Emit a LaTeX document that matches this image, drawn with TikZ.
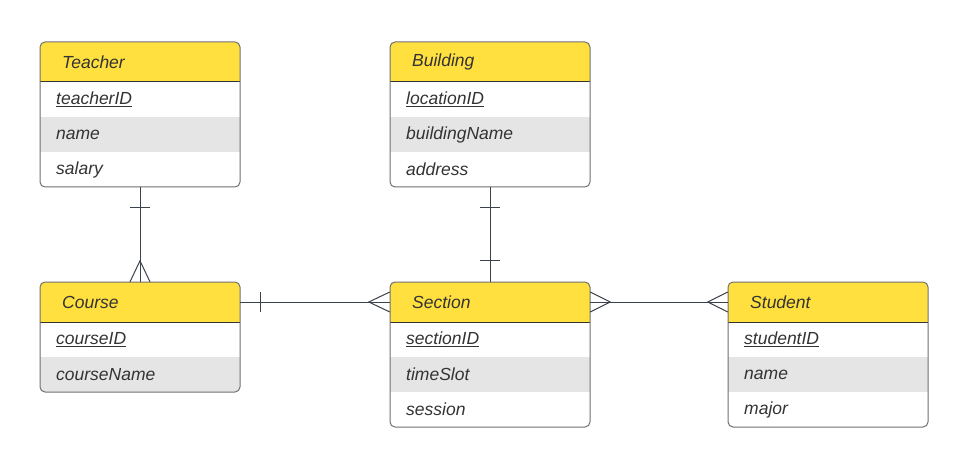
\documentclass[tikz,border=0pt]{standalone}
\usepackage{fontspec}
\setmainfont{Liberation Sans}
\usetikzlibrary{calc}
\definecolor{hdr}{HTML}{FFE03F}
\definecolor{stripe}{HTML}{E5E5E5}
\definecolor{bord}{HTML}{707070}
\definecolor{ink}{HTML}{333333}
\definecolor{connc}{HTML}{3B424B}
\tikzset{
 tbl/.style={draw=bord, line width=1pt, rounded corners=5pt, minimum width=200pt, inner sep=0pt},
 hdrbox/.style={minimum width=200pt, minimum height=40pt, inner sep=0pt},
 lbl/.style={anchor=west, inner sep=0pt, text=ink, font=\fontsize{17.5}{21}\selectfont\itshape},
 connl/.style={draw=connc, line width=1pt},
}
\newcommand{\erent}[6]{%
 \pgfmathsetmacro{\hh}{40+35*#4}
 \begin{scope}
  \clip[rounded corners=5pt] (#2,#3) rectangle ++(200,\hh);
  \fill[hdr] (#2,#3) rectangle ++(200,40);
  \foreach \t [count=\i] in {#6} {
   \ifodd\i\else \fill[stripe] (#2,#3+5+35*\i) rectangle ++(200,35); \fi
  }
 \end{scope}
 \draw[ink, line width=1pt] (#2,#3+40) -- ++(200,0);
 \node[hdrbox] (#1-h) at (#2+100,#3+20) {};
 \node[lbl] (#1-t) at (#2+22,#3+20) {#5};
 \foreach \t [count=\i] in {#6} {
  \node[lbl] (#1-\i) at (#2+16,#3+22.5+35*\i) {\t};
 }
 \node[tbl, minimum height=\hh pt] (#1) at (#2+100,#3+\hh/2) {};
}
\begin{document}
\begin{tikzpicture}[x=1pt,y=-1pt]
\fill[white] (0,0) rectangle (973,470);
\useasboundingbox (0,0) rectangle (973,470);
\erent{teacher}{40}{42}{3}{Teacher}{\underline{teacherID},name,salary}
\erent{building}{390}{42}{3}{Building}{\underline{locationID},buildingName,address}
\erent{course}{40}{282}{2}{Course}{\underline{courseID},courseName}
\erent{section}{390}{282}{3}{Section}{\underline{sectionID},timeSlot,session}
\erent{student}{728}{282}{3}{Student}{\underline{studentID},name,major}
% Teacher - Course
\draw[connl] (teacher.south) -- (course-h.north);
\draw[connl] ($(teacher.south)+(-10,20)$) -- ++(20,0);
\draw[connl] ($(course-h.north)+(-10,0)$) -- ++(10,-21) -- ++(10,21);
% Building - Section
\draw[connl] (building.south) -- (section-h.north);
\draw[connl] ($(building.south)+(-10,20)$) -- ++(20,0);
\draw[connl] ($(section-h.north)+(-10,-21)$) -- ++(20,0);
% Course - Section
\draw[connl] (course-h.east) -- (section-h.west);
\draw[connl] ($(course-h.east)+(20,-10)$) -- ++(0,20);
\draw[connl] ($(section-h.west)+(0,-10)$) -- ++(-21,10) -- ++(21,10);
% Section - Student
\draw[connl] (section-h.east) -- (student-h.west);
\draw[connl] ($(section-h.east)+(0,-10)$) -- ++(20,10) -- ++(-20,10);
\draw[connl] ($(student-h.west)+(0,-10)$) -- ++(-20,10) -- ++(20,10);
\end{tikzpicture}
\end{document}
